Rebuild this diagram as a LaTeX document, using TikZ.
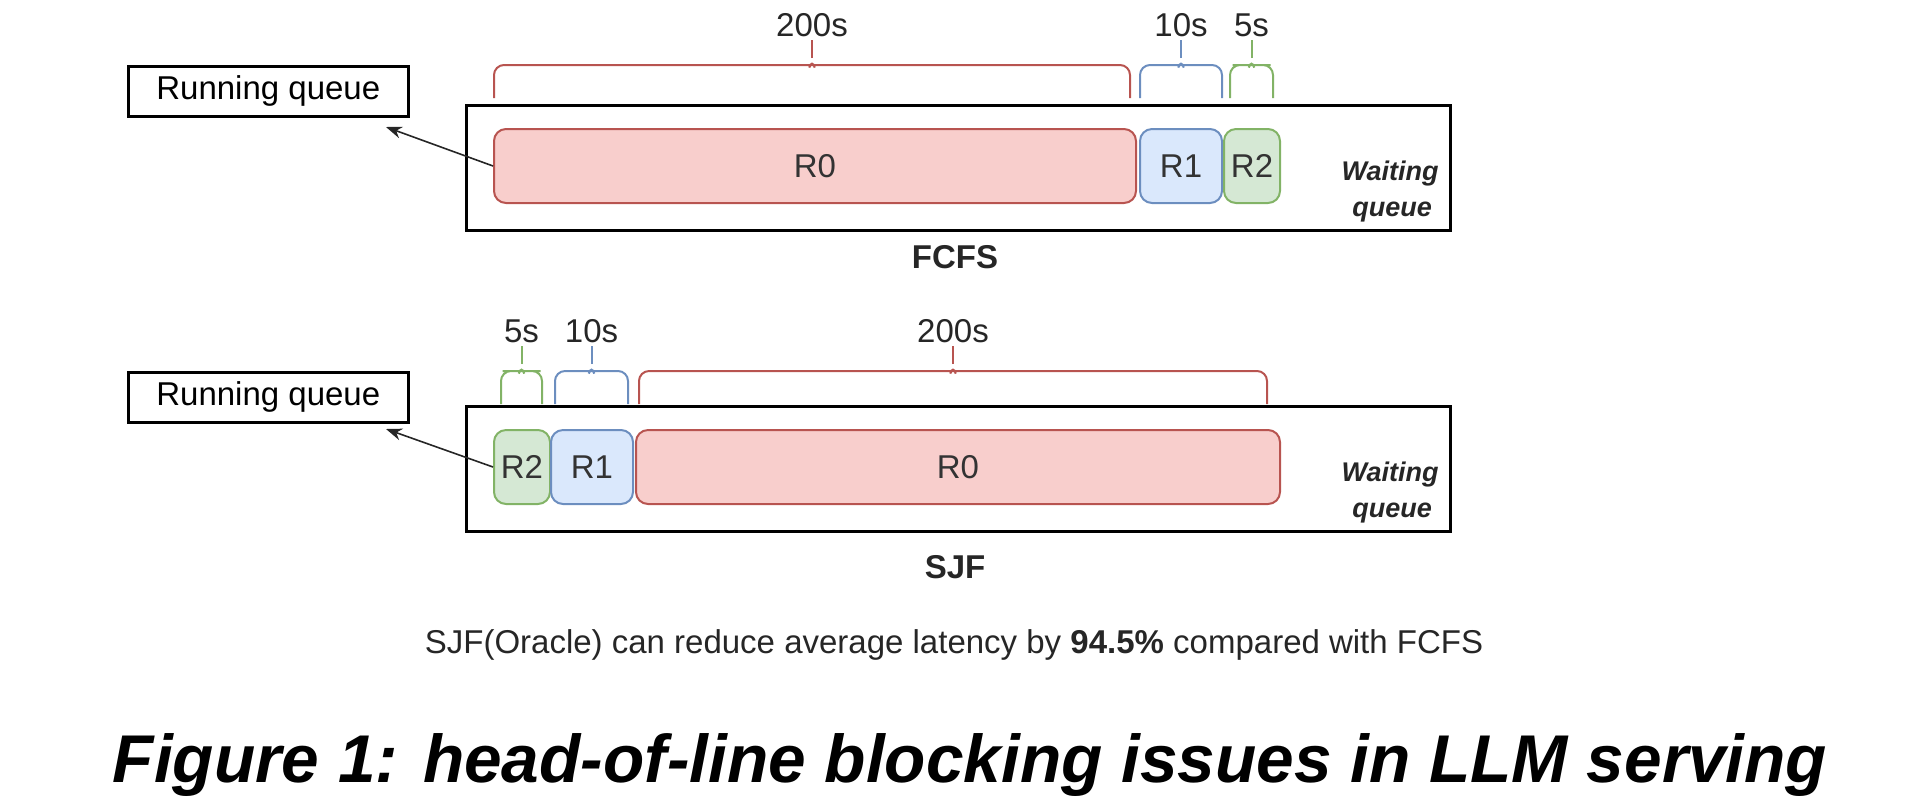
\documentclass[tikz,border=0pt]{standalone}
\usepackage{fontspec}
\setmainfont{Liberation Sans}
\usetikzlibrary{arrows.meta}
\definecolor{rf}{HTML}{F8CECC}\definecolor{rd}{HTML}{B85450}
\definecolor{bf}{HTML}{DAE8FC}\definecolor{bd}{HTML}{6C8EBF}
\definecolor{gf}{HTML}{D5E8D4}\definecolor{gd}{HTML}{82B366}
\begin{document}
\begin{tikzpicture}[x=0.5pt,y=-0.5pt,
  txt/.style={font=\fontsize{16.5}{18}\selectfont, inner sep=0pt, text=black!85},
  req/.style={draw=#1!100!black, line width=1pt, rounded corners=6pt, anchor=north west, inner sep=0pt, font=\fontsize{16.5}{18}\selectfont, text=black!80},
  outer/.style={draw, line width=1.3pt, anchor=north west, inner sep=0pt},
  rq/.style={draw, line width=1.3pt, anchor=north west, inner sep=0pt, minimum width=140pt, minimum height=25pt, font=\fontsize{16.5}{18}\selectfont},
  arr/.style={-{Stealth[length=8pt,width=6pt]}, line width=0.8pt, black!85},
  wq/.style={font=\fontsize{13.5}{15}\selectfont\bfseries\itshape, align=right, inner sep=0pt, text=black!85},
  br/.style={line width=1pt, rounded corners=5pt},
  ttl/.style={font=\fontsize{16.5}{18}\selectfont\bfseries, inner sep=0pt, text=black!85},
]
\useasboundingbox (0,0) rectangle (1920,811);
\newcommand\mybrace[5]{% x1,x2,ytop,col,label
  \pgfmathsetmacro\mm{(#1+#2)/2}
  \draw[br,#4] (#1,#3+33) -- (#1,#3) -- (\mm-9,#3) .. controls (\mm-2,#3) .. (\mm,#3-7) .. controls (\mm+2,#3) .. (\mm+9,#3) -- (#2,#3) -- (#2,#3+33);
  \draw[line width=1pt,#4] (\mm,#3-7) -- (\mm,#3-25);
  \node[txt,anchor=south] (#5) at (\mm,#3-28) {\csname lbl#5\endcsname};
}
\newcommand\lbla{200s}\newcommand\lblb{10s}\newcommand\lblc{5s}
\newcommand\lbld{5s}\newcommand\lble{10s}\newcommand\lblf{200s}
% ---------- FCFS ----------
\node[rq] (rq1) at (127,65) {Running queue};
\coordinate (t1) at (386,127);
\node[outer, minimum width=492pt, minimum height=62.5pt] (ob1) at (465,104) {};
\node[req=rd, fill=rf, minimum width=321pt, minimum height=37pt] (a0) at (493,128) {R0};
\node[req=bd, fill=bf, minimum width=41pt, minimum height=37pt] (a1) at (1139,128) {R1};
\node[req=gd, fill=gf, minimum width=28pt, minimum height=37pt] (a2) at (1223,128) {R2};
\node[wq] (w1) at (1390,174) {Waiting};
\node[wq] (q1) at (1392,212) {queue};
\node[ttl] (f1) at (955,257) {FCFS};
\mybrace{494}{1130}{65}{rd}{a}
\mybrace{1140}{1222}{65}{bd}{b}
\mybrace{1230}{1273}{65}{gd}{c}
\draw[arr] (a0.west) -- (t1);
% ---------- SJF ----------
\node[rq] (rq2) at (127,371) {Running queue};
\coordinate (t2) at (386,429);
\node[outer, minimum width=492pt, minimum height=62.5pt] (ob2) at (465,405) {};
\node[req=gd, fill=gf, minimum width=28pt, minimum height=37pt] (b2) at (493,429) {R2};
\node[req=bd, fill=bf, minimum width=41pt, minimum height=37pt] (b1) at (550,429) {R1};
\node[req=rd, fill=rf, minimum width=322pt, minimum height=37pt] (b0) at (635,429) {R0};
\node[wq] (w2) at (1390,475) {Waiting};
\node[wq] (q2) at (1392,513) {queue};
\node[ttl] (f2) at (955,567) {SJF};
\mybrace{501}{542}{371}{gd}{d}
\mybrace{555}{628}{371}{bd}{e}
\mybrace{639}{1267}{371}{rd}{f}
\draw[arr] (b2.west) -- (t2);
% ---------- captions ----------
\node[txt] (cap) at (954,645) {SJF(Oracle) can reduce average latency by \textbf{94.5\%} compared with FCFS};
\node[inner sep=0pt] (title) at (970,765) {\resizebox{857pt}{!}{\bfseries\itshape Figure 1: head-of-line blocking issues in LLM serving}};
\end{tikzpicture}
\end{document}
